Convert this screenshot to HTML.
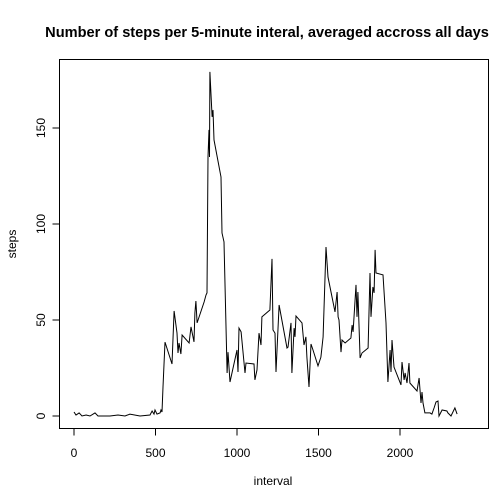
<!DOCTYPE html>
<html><head><meta charset="utf-8"><style>
html,body{margin:0;padding:0;background:#fff;}
svg{display:block;font-family:"Liberation Sans",sans-serif;}
</style></head><body>
<svg id="chart" width="504" height="504">
<rect x="0" y="0" width="504" height="504" fill="#fff"/>
<text x="267" y="37" text-anchor="middle" font-size="14.6" font-weight="bold">Number of steps per 5-minute interal, averaged accross all days</text>
<rect x="59.5" y="59.5" width="429" height="369" fill="none" stroke="#000" stroke-width="1"/>
<g id="xaxis"></g>
<g id="yaxis"></g>
<text x="273" y="485" text-anchor="middle" font-size="12">interval</text>
<text x="0" y="0" transform="translate(16,244) rotate(-90)" text-anchor="middle" font-size="12">steps</text>
<path id="line" fill="none" stroke="#000" stroke-width="1"/>
</svg>
<script>
const intervals=[0,12,31,49,74,98,129,147,221,270,313,343,405,466,479,491,497,509,528,534,540,546,558,601,614,632,638,644,656,663,706,718,724,736,742,748,755,798,810,816,822,828,831,834,847,853,859,902,908,920,939,945,957,1000,1006,1012,1025,1049,1055,1104,1110,1123,1135,1147,1153,1202,1215,1221,1233,1239,1258,1307,1313,1331,1337,1350,1356,1362,1399,1411,1423,1429,1442,1454,1466,1497,1515,1528,1546,1558,1601,1614,1620,1626,1638,1644,1663,1699,1706,1712,1730,1736,1742,1755,1767,1804,1816,1822,1834,1841,1847,1853,1896,1914,1926,1939,1945,1951,1963,2006,2012,2025,2031,2043,2055,2061,2104,2117,2129,2135,2141,2153,2184,2196,2209,2221,2233,2239,2258,2288,2294,2313,2337,2350];
const steps=[2.1,0.5,1.6,0,0.5,0,1.6,0,0,0.5,0,1.0,0,0.5,2.6,1.0,3.1,1.0,1.6,3.1,2.1,15.1,38.5,27.1,54.7,43.2,32.8,38.0,32.3,42.2,38.0,46.4,43.8,38.6,53.7,59.9,48.5,59.4,63.0,64.1,134.9,149.0,134.9,179.2,155.8,159.4,143.8,124.5,95.3,90.7,22.4,33.3,17.7,34.4,22.9,45.8,43.8,22.4,27.6,27.1,18.8,24.0,43.2,37.0,51.6,55.2,81.8,44.8,43.2,22.9,57.8,35.4,35.9,48.5,22.4,45.8,41.2,52.1,48.5,37.0,41.2,30.7,15.1,37.5,34.4,26.1,30.7,41.2,88.0,72.4,54.2,64.6,51.6,50.0,33.3,39.6,38.0,40.6,47.4,43.8,68.3,51.6,64.6,30.2,32.8,35.4,74.5,51.6,67.2,64.1,86.5,74.5,73.5,48.5,17.7,34.4,22.9,39.6,25.5,16.2,28.1,18.8,22.4,17.2,27.6,17.2,13.0,19.8,6.8,12.5,6.8,1.6,1.6,1.0,4.2,7.3,7.8,0,3.1,2.6,1.6,0,4.2,1.0];
const xTicks=[0,500,1000,1500,2000];
const yTicks=[0,50,100,150];
const xs=v=>74+v*81.5/500;
const ys=v=>416-v*1.92;
const NS="http://www.w3.org/2000/svg";
const xa=document.getElementById('xaxis'),ya=document.getElementById('yaxis');
function mk(t,a){const e=document.createElementNS(NS,t);for(const k in a)e.setAttribute(k,a[k]);return e;}
xa.appendChild(mk('line',{x1:xs(xTicks[0]),x2:xs(xTicks[xTicks.length-1]),y1:428.5,y2:428.5,stroke:'#000'}));
xTicks.forEach(t=>{
 const l=mk('line',{x1:xs(t),x2:xs(t),y1:428.5,y2:435.5,stroke:'#000'});
 
 
 xa.appendChild(l);
 const tx=mk('text',{x:xs(t),y:457,'text-anchor':'middle','font-size':12});
 
 
 tx.textContent=t;xa.appendChild(tx);
});
ya.appendChild(mk('line',{x1:59.5,x2:59.5,y1:ys(yTicks[0]),y2:ys(yTicks[yTicks.length-1]),stroke:'#000'}));
yTicks.forEach(t=>{
 const l=mk('line',{x1:52.5,x2:59.5,y1:ys(t),y2:ys(t),stroke:'#000'});
 
 
 ya.appendChild(l);
 const tx=mk('text',{x:0,y:0,transform:`translate(45,${ys(t)}) rotate(-90)`,'text-anchor':'middle','font-size':12});
 
 
 tx.textContent=t;ya.appendChild(tx);
});
document.getElementById('line').setAttribute('d',intervals.map((v,i)=>(i?'L':'M')+xs(v).toFixed(1)+','+ys(steps[i]).toFixed(1)).join(''));
</script>
</body></html>
